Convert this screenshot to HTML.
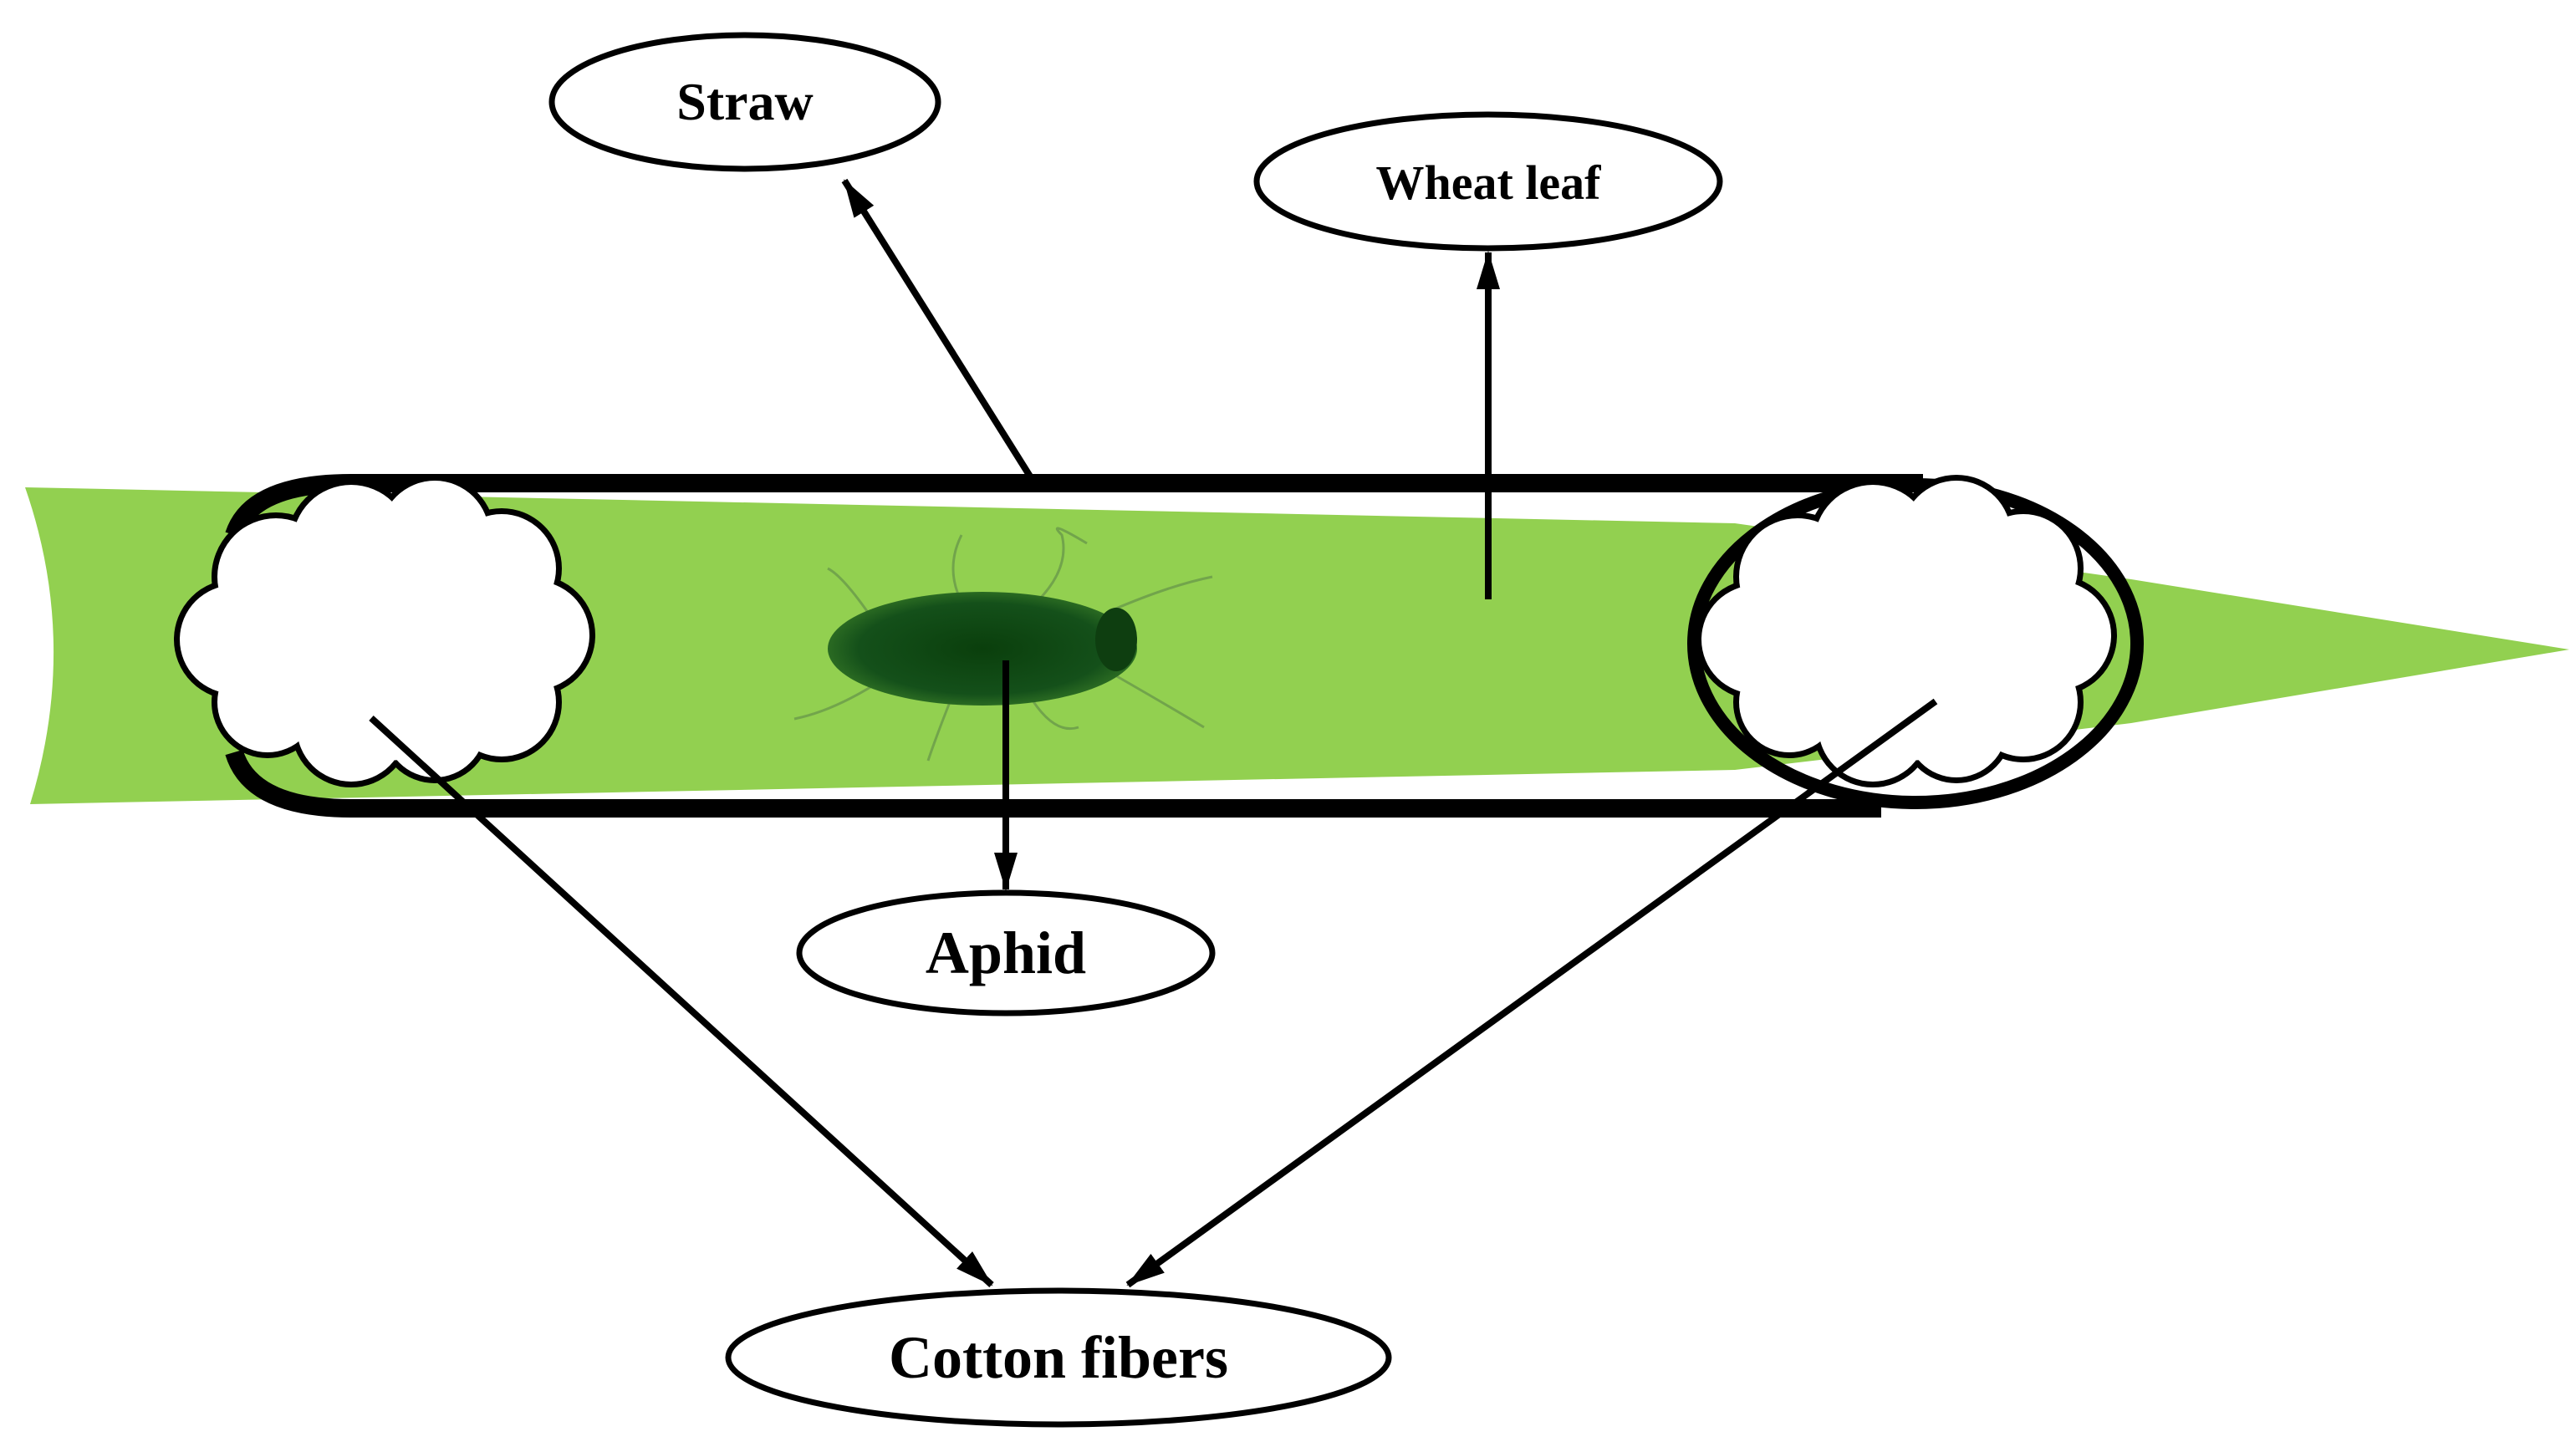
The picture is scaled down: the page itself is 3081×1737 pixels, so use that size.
<!DOCTYPE html>
<html><head><style>html,body{margin:0;padding:0;background:#fff}svg{display:block}</style></head>
<body>
<svg width="3081" height="1737" viewBox="0 0 3081 1737" xmlns="http://www.w3.org/2000/svg">
<defs>
<marker id="ah" markerWidth="46" markerHeight="30" refX="44" refY="15" orient="auto" markerUnits="userSpaceOnUse">
<path d="M0,1 L46,15 L0,29 Z" fill="#000"/></marker>
<radialGradient id="aph" cx="50%" cy="50%" r="50%"><stop offset="0" stop-color="#0a3f0c"/><stop offset="0.8" stop-color="#14501a"/><stop offset="1" stop-color="#2a6a22"/></radialGradient>
</defs>
<!-- leaf -->
<path d="M30,583 L2075,626 L2549,693 L3073,777 L2549,865 L2075,921 L36,962 Q95,770 30,583 Z" fill="#92d050"/>
<!-- capsule -->
<path d="M420,578 L2300,578 M420,967 L2250,967" stroke="#000" stroke-width="22"/>
<path d="M420,578 Q300,578 280,640 M420,967 Q300,967 280,900" stroke="#000" stroke-width="22" fill="none"/>
<ellipse cx="2291" cy="770" rx="265" ry="190" fill="none" stroke="#000" stroke-width="16"/>
<!-- aphid -->
<g stroke="#6a9a4a" stroke-width="3" fill="none" opacity="0.8">
<path d="M1150,720 Q1130,680 1150,640"/><path d="M1240,720 Q1280,680 1270,640 Q1250,620 1300,650"/>
<path d="M1050,750 Q1010,690 990,680"/><path d="M1330,730 Q1400,700 1450,690"/>
<path d="M1140,830 Q1120,880 1110,910"/><path d="M1230,830 Q1260,880 1290,870"/>
<path d="M1320,800 Q1390,840 1440,870"/><path d="M1060,810 Q1000,850 950,860"/>
</g>
<ellipse cx="1175" cy="776" rx="185" ry="68" fill="url(#aph)"/>
<ellipse cx="1335" cy="765" rx="25" ry="38" fill="#0e3e10"/>
<!-- clouds -->
<g>
<g stroke="#000" stroke-width="14" fill="#fff">
<circle cx="330" cy="690" r="70"/><circle cx="420" cy="650" r="70"/><circle cx="520" cy="640" r="65"/><circle cx="600" cy="680" r="65"/>
<circle cx="640" cy="760" r="65"/><circle cx="600" cy="840" r="65"/><circle cx="520" cy="870" r="60"/><circle cx="420" cy="870" r="65"/>
<circle cx="320" cy="840" r="60"/><circle cx="280" cy="765" r="65"/><circle cx="460" cy="760" r="150"/>
</g>
<g fill="#fff">
<circle cx="330" cy="690" r="70"/><circle cx="420" cy="650" r="70"/><circle cx="520" cy="640" r="65"/><circle cx="600" cy="680" r="65"/>
<circle cx="640" cy="760" r="65"/><circle cx="600" cy="840" r="65"/><circle cx="520" cy="870" r="60"/><circle cx="420" cy="870" r="65"/>
<circle cx="320" cy="840" r="60"/><circle cx="280" cy="765" r="65"/><circle cx="460" cy="760" r="150"/>
</g>
</g>
<g transform="translate(1820,0)">
<g stroke="#000" stroke-width="14" fill="#fff">
<circle cx="330" cy="690" r="70"/><circle cx="420" cy="650" r="70"/><circle cx="520" cy="640" r="65"/><circle cx="600" cy="680" r="65"/>
<circle cx="640" cy="760" r="65"/><circle cx="600" cy="840" r="65"/><circle cx="520" cy="870" r="60"/><circle cx="420" cy="870" r="65"/>
<circle cx="320" cy="840" r="60"/><circle cx="280" cy="765" r="65"/><circle cx="460" cy="760" r="150"/>
</g>
<g fill="#fff">
<circle cx="330" cy="690" r="70"/><circle cx="420" cy="650" r="70"/><circle cx="520" cy="640" r="65"/><circle cx="600" cy="680" r="65"/>
<circle cx="640" cy="760" r="65"/><circle cx="600" cy="840" r="65"/><circle cx="520" cy="870" r="60"/><circle cx="420" cy="870" r="65"/>
<circle cx="320" cy="840" r="60"/><circle cx="280" cy="765" r="65"/><circle cx="460" cy="760" r="150"/>
</g>
</g>
<!-- arrows -->
<g stroke="#000" stroke-width="8" fill="none" marker-end="url(#ah)">
<line x1="1234" y1="573" x2="1010" y2="216"/>
<line x1="1780" y1="717" x2="1780" y2="302"/>
<line x1="1203" y1="790" x2="1203" y2="1064"/>
<line x1="444" y1="859" x2="1186" y2="1537"/>
<line x1="2315" y1="839" x2="1349" y2="1537"/>
</g>
<!-- ellipses -->
<g fill="#fff" stroke="#000" stroke-width="7">
<ellipse cx="891" cy="122" rx="231" ry="80"/>
<ellipse cx="1780" cy="217" rx="277" ry="80"/>
<ellipse cx="1203" cy="1140" rx="247" ry="72"/>
<ellipse cx="1266" cy="1624" rx="395" ry="80"/>
</g>
<g font-family="'Liberation Serif',serif" font-weight="bold" text-anchor="middle" fill="#000">
<text x="891" y="143" font-size="64">Straw</text>
<text x="1780" y="238" font-size="58">Wheat leaf</text>
<text x="1203" y="1164" font-size="72">Aphid</text>
<text x="1266" y="1648" font-size="72">Cotton fibers</text>
</g>
</svg>
</body></html>
